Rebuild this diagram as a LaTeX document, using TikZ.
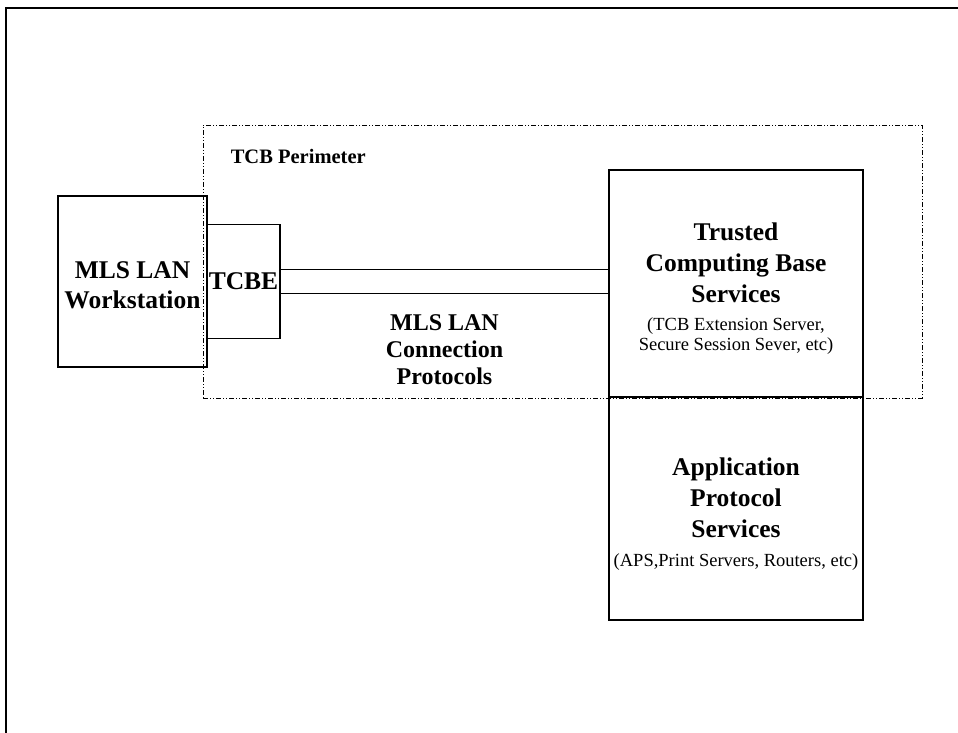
\documentclass[tikz,border=0pt]{standalone}
\usepackage{fontspec}
\setmainfont{Liberation Serif}
\usepackage{tikz}
\usetikzlibrary{positioning}

\newcommand{\detail}[1]{{\mdseries\fontsize{18.5}{20}\selectfont #1}}

\begin{document}
\begin{tikzpicture}[
		x=1pt, y=-1pt,
		font=\bfseries\fontsize{25.5}{31}\selectfont,
		box/.style={
			draw,
			rectangle,
			line width=1.2pt,
			align=center,
			inner sep=0pt,
			outer sep=0pt
		},
		perimeter/.style={
			draw,
			rectangle,
			line width=0.8pt,
			dash pattern=on 5pt off 2pt on 1pt off 2pt on 1pt off 2pt,
			minimum width=719pt,
			minimum height=273pt,
			inner sep=0pt
		},
		frame/.style={line width=1.8pt},
		link/.style={line width=1.2pt}
	]
	\useasboundingbox (0,0) rectangle (958,733);
	
	% Frame
	\coordinate (corner) at (6,8);
	\draw[frame] (958,8) -- (corner) -- (6,733);
	
	% Perimeter
	\node[perimeter] (perim) at (562.5,261.5) {};
	\node[anchor=west, inner sep=0pt, font=\bfseries\fontsize{20.5}{24}\selectfont]
		(perimlabel) at ([xshift=28pt, yshift=-32pt]perim.north west) {TCB Perimeter};
	
	% Left side
	\node[box, minimum width=149pt, minimum height=171pt] (ws) at (132.5,281.5) {\rule{0pt}{25pt}MLS LAN\\[-1pt]Workstation};
	\node[box, minimum width=73pt, minimum height=114pt, right=0pt of ws] (tcbe) {TCBE};
	
	% Right side
	\node[box, minimum width=254pt, minimum height=227pt] (tcb) at (736,283.5) {\rule{0pt}{28pt}Trusted\\Computing Base\\Services\\[-3pt]
		\detail{(TCB Extension Server,}\\[-11pt]\detail{Secure Session Sever, etc)}};
	\node[box, minimum width=254pt, minimum height=223pt, below=0pt of tcb] (aps) {\rule{0pt}{28pt}Application\\Protocol\\Services\\[-2pt]
		\detail{(APS,Print Servers, Routers, etc)}};
	
	% Connection
	\draw[link] ([yshift=12pt]tcbe.east) -- ([yshift=12pt]tcbe.east -| tcb.west);
	\draw[link] ([yshift=-12pt]tcbe.east) -- ([yshift=-12pt]tcbe.east -| tcb.west)
		node[midway, below=21pt, inner sep=0pt, align=center, font=\bfseries\fontsize{24}{27}\selectfont] (proto)
		{MLS LAN\\Connection\\Protocols};
	
\end{tikzpicture}
\end{document}
